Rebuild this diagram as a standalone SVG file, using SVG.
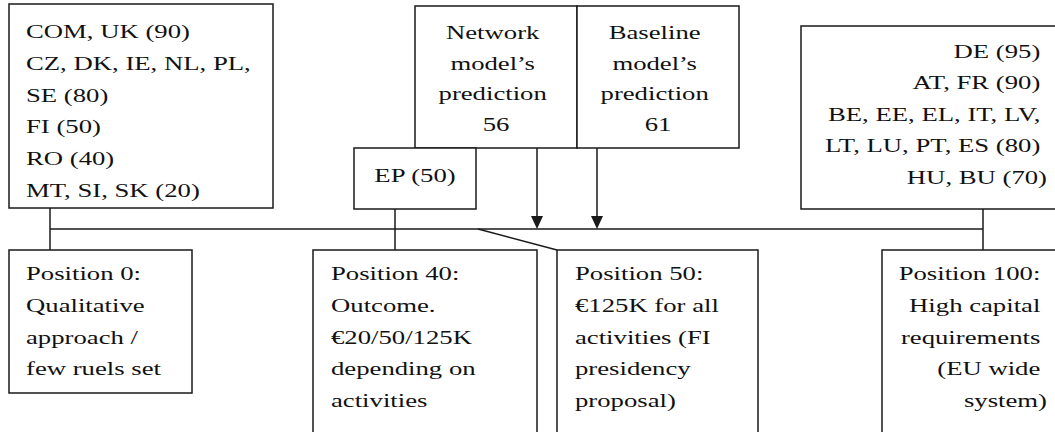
<svg xmlns="http://www.w3.org/2000/svg" width="1055" height="432" viewBox="0 0 1055 432">
<style>
.box{fill:#fff;stroke:#1a1a1a;stroke-width:1.5}
.ln{fill:none;stroke:#1a1a1a;stroke-width:1.5}
text{font-family:'Liberation Serif','Times New Roman',Times,'DejaVu Serif',serif;font-size:19.5px;fill:#111}
.m{text-anchor:middle}
.e{text-anchor:end}
</style>
<rect width="1055" height="432" fill="#fff"/>
<g id="connectors">
<line class="ln" x1="50" y1="229" x2="983" y2="229"/>
<line class="ln" x1="50" y1="208" x2="50" y2="250"/>
<line class="ln" x1="395" y1="209" x2="395" y2="250"/>
<line class="ln" x1="983" y1="209" x2="983" y2="250"/>
<line class="ln" x1="478" y1="229" x2="557" y2="250"/>
<line class="ln" x1="537" y1="148" x2="537" y2="218"/>
<line class="ln" x1="597" y1="148" x2="597" y2="218"/>
<path d="M531,216 L543,216 L537,229 Z" fill="#1a1a1a"/>
<path d="M591,216 L603,216 L597,229 Z" fill="#1a1a1a"/>
</g>
<g id="node-left-top" font-family="Liberation Serif, serif">
<rect class="box" x="9" y="4" width="264" height="204"/>
<text transform="translate(26,38) scale(1.37,1)">
<tspan x="0" y="0">COM, UK (90)</tspan>
<tspan x="0" y="31.8">CZ, DK, IE, NL, PL,</tspan>
<tspan x="0" y="63.6">SE (80)</tspan>
<tspan x="0" y="95.4">FI (50)</tspan>
<tspan x="0" y="127.2">RO (40)</tspan>
<tspan x="0" y="159">MT, SI, SK (20)</tspan>
</text>
</g>
<g id="node-network">
<rect class="box" x="415" y="6" width="162" height="142"/>
<text class="m" transform="translate(496,39) scale(1.37,1)">
<tspan x="0" y="0">Network</tspan>
<tspan x="0" y="30.7">model’s</tspan>
<tspan x="0" y="61.4">prediction</tspan>
<tspan x="0" y="92.1">56</tspan>
</text>
</g>
<g id="node-baseline">
<rect class="box" x="577" y="6" width="162" height="142"/>
<text class="m" transform="translate(658,39) scale(1.37,1)">
<tspan x="0" y="0">Baseline</tspan>
<tspan x="0" y="30.7">model’s</tspan>
<tspan x="0" y="61.4">prediction</tspan>
<tspan x="0" y="92.1">61</tspan>
</text>
</g>
<g id="node-ep">
<rect class="box" x="354" y="148" width="122" height="61"/>
<text class="m" transform="translate(415,182) scale(1.37,1)"><tspan x="0" y="0">EP (50)</tspan></text>
</g>
<g id="node-right-top">
<rect class="box" x="801" y="26" width="260" height="183"/>
<text class="e" transform="translate(1047,58) scale(1.37,1)">
<tspan x="0" y="0">DE (95)</tspan>
<tspan x="0" y="31.5">AT, FR (90)</tspan>
<tspan x="0" y="63">BE, EE, EL, IT, LV,</tspan>
<tspan x="0" y="94.5">LT, LU, PT, ES (80)</tspan>
<tspan x="0" y="126">HU, BU (70)</tspan>
</text>
</g>
<g id="node-pos0">
<rect class="box" x="9" y="250" width="183" height="143"/>
<text transform="translate(26,280) scale(1.37,1)">
<tspan x="0" y="0">Position 0:</tspan>
<tspan x="0" y="31.8">Qualitative</tspan>
<tspan x="0" y="63.6">approach /</tspan>
<tspan x="0" y="95.4">few ruels set</tspan>
</text>
</g>
<g id="node-pos40">
<rect class="box" x="313" y="250" width="224" height="200"/>
<text transform="translate(331,280) scale(1.37,1)">
<tspan x="0" y="0">Position 40:</tspan>
<tspan x="0" y="31.8">Outcome.</tspan>
<tspan x="0" y="63.6">€20/50/125K</tspan>
<tspan x="0" y="95.4">depending on</tspan>
<tspan x="0" y="127.2">activities</tspan>
</text>
</g>
<g id="node-pos50">
<rect class="box" x="557" y="250" width="201" height="200"/>
<text transform="translate(575,280) scale(1.37,1)">
<tspan x="0" y="0">Position 50:</tspan>
<tspan x="0" y="31.8">€125K for all</tspan>
<tspan x="0" y="63.6">activities (FI</tspan>
<tspan x="0" y="95.4">presidency</tspan>
<tspan x="0" y="127.2">proposal)</tspan>
</text>
</g>
<g id="node-pos100">
<rect class="box" x="882" y="250" width="200" height="200"/>
<text class="e" transform="translate(1047,280) scale(1.37,1)">
<tspan x="0" y="0">Position 100:</tspan>
<tspan x="0" y="31.8">High capital</tspan>
<tspan x="0" y="63.6">requirements</tspan>
<tspan x="0" y="95.4">(EU wide</tspan>
<tspan x="0" y="127.2">system)</tspan>
</text>
</g>
</svg>
